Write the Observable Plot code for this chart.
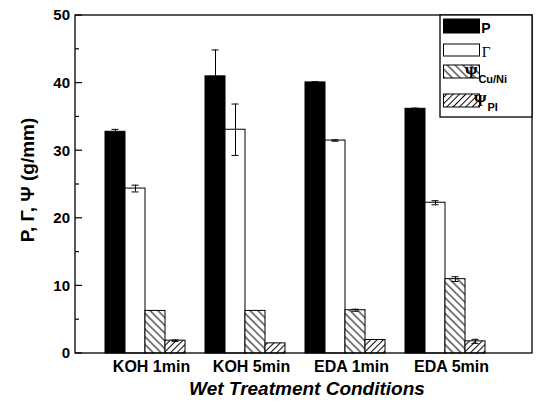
<!DOCTYPE html>
<html><head><meta charset="utf-8">
<script src="https://cdn.jsdelivr.net/npm/d3@7"></script>
<script src="https://cdn.jsdelivr.net/npm/@observablehq/plot@0.6"></script>
<style>body{margin:0;background:#fff}</style>
</head><body><div id="chart"></div>
<script>
// ---- data ----
const conditions = ["KOH 1min", "KOH 5min", "EDA 1min", "EDA 5min"];
const seriesKeys = ["P", "Γ", "ΨCu/Ni", "ΨPI"];
const legendMain = ["P", "Γ", "Ψ", "Ψ"];
const legendSub = ["", "", "Cu/Ni", "PI"];
const valuesP = [32.8, 41.0, 40.1, 36.2];
const errP = [0.35, 3.9, 0.1, 0.1];
const valuesGamma = [24.4, 33.1, 31.5, 22.3];
const errGamma = [0.5, 3.8, 0.1, 0.3];
const valuesPsiCu = [6.3, 6.3, 6.4, 11.0];
const errPsiCu = [0, 0, 0.15, 0.35];
const valuesPsiPI = [1.9, 1.5, 2.0, 1.8];
const errPsiPI = [0.1, 0, 0, 0.3];
const yMajorTicks = [0, 10, 20, 30, 40, 50];
const yMinorTicks = [5, 15, 25, 35, 45];
const yTitle = "P, Γ, Ψ (g/mm)";
const xTitle = "Wet Treatment Conditions";

const seriesValues = [valuesP, valuesGamma, valuesPsiCu, valuesPsiPI];
const seriesErrs = [errP, errGamma, errPsiCu, errPsiPI];
const rows = conditions.flatMap((c, i) => seriesKeys.map((s, j) => ({
  condition: c, series: s, value: seriesValues[j][i], err: seriesErrs[j][i]
})));
const errRows = rows.filter(d => d.err > 0);

const W = 538, H = 405, mL = 75, mR = 6, mT = 15, mB = 52;
const sans = "'Liberation Sans', Arial, sans-serif";
const serif = "'Liberation Serif', 'Times New Roman', serif";

const plot = Plot.plot({
  width: W, height: H,
  marginLeft: mL, marginRight: mR, marginTop: mT, marginBottom: mB,
  style: {fontFamily: sans, fontWeight: "bold", color: "black", background: "white", overflow: "visible"},
  fx: {domain: conditions, paddingInner: 0.2, paddingOuter: 0.385, align: 0.39, label: null},
  x: {domain: seriesKeys, paddingInner: 0, paddingOuter: 0, axis: null},
  y: {domain: [0, 50], label: null, axis: null},
  color: {domain: seriesKeys, range: ["black", "white", "url(#hatchCu)", "url(#hatchPI)"]},
  marks: [
    Plot.barY(rows, {fx: "condition", x: "series", y: "value", fill: "series", stroke: "black", strokeWidth: 1}),
    Plot.ruleX(errRows, {fx: "condition", x: "series", y1: d => d.value - d.err, y2: d => d.value + d.err, stroke: "black", strokeWidth: 1}),
    Plot.tickY(errRows, {fx: "condition", x: "series", y: d => d.value + d.err, insetLeft: 6.5, insetRight: 6.5, stroke: "black"}),
    Plot.tickY(errRows, {fx: "condition", x: "series", y: d => d.value - d.err, insetLeft: 6.5, insetRight: 6.5, stroke: "black"}),
    Plot.axisFx({anchor: "bottom", tickSize: 0, tickPadding: 7, fontSize: 16, dx: 6, label: null})
  ]
});

const svg = d3.select(plot);
const defs = svg.insert("defs", ":first-child");
function hatch(id, size, angle) {
  const p = defs.append("pattern").attr("id", id).attr("patternUnits", "userSpaceOnUse")
    .attr("width", size).attr("height", size).attr("patternTransform", `rotate(${angle})`);
  p.append("rect").attr("width", size).attr("height", size).attr("fill", "white");
  p.append("line").attr("x1", size / 2).attr("x2", size / 2).attr("y1", 0).attr("y2", size)
    .attr("stroke", "black").attr("stroke-width", 1);
}
hatch("hatchCu", 5.5, -45);
hatch("hatchPI", 4.5, 45);

// frame
svg.append("rect").attr("x", mL).attr("y", mT).attr("width", W - mL - mR).attr("height", H - mT - mB)
  .attr("fill", "none").attr("stroke", "black").attr("stroke-width", 1.3);

// y axis (inward ticks) from the plot's y scale
const y = plot.scale("y");
const ax = svg.append("g");
yMajorTicks.forEach(v => {
  const py = y.apply(v);
  ax.append("line").attr("x1", mL).attr("x2", mL + 7).attr("y1", py).attr("y2", py).attr("stroke", "black").attr("stroke-width", 1.2);
  ax.append("text").attr("x", mL - 5).attr("y", py).attr("dy", "0.36em").attr("text-anchor", "end")
    .attr("font-family", sans).attr("font-weight", "bold").attr("font-size", 15).attr("fill", "black").text(String(v));
});
yMinorTicks.forEach(v => {
  const py = y.apply(v);
  ax.append("line").attr("x1", mL).attr("x2", mL + 4).attr("y1", py).attr("y2", py).attr("stroke", "black").attr("stroke-width", 1.2);
});

// legend
const color = plot.scale("color");
const lgW = 92, lgH = 102;
const lg = svg.append("g").attr("transform", `translate(${W - mR - lgW},${mT})`);
lg.append("rect").attr("width", lgW).attr("height", lgH).attr("fill", "white").attr("stroke", "black").attr("stroke-width", 1.3);
const swY = [4, 29, 50, 79];
const swH = [14, 12, 13, 13];
const baseY = [18, 42, 63, 91];
seriesKeys.forEach((k, i) => {
  lg.append("rect").attr("x", 3.5).attr("y", swY[i]).attr("width", 36).attr("height", swH[i])
    .attr("fill", color.apply(k)).attr("stroke", "black").attr("stroke-width", 1);
  const t = lg.append("text").attr("x", 46).attr("y", baseY[i]).attr("fill", "black");
  const isP = i === 0, isG = i === 1;
  t.append("tspan").attr("font-family", isP ? sans : serif).attr("font-weight", isG ? "normal" : "bold")
    .attr("font-size", isP ? 14 : isG ? 15 : 16).text(legendMain[i]);
  if (legendSub[i]) {
    t.append("tspan").attr("font-family", sans).attr("font-weight", "bold").attr("font-size", 11)
      .attr("dy", 5).attr("dx", 1).text(legendSub[i]);
  }
});

// axis titles
svg.append("text").attr("transform", `translate(27,${(mT + H - mB) / 2 - 4}) rotate(-90)`)
  .attr("text-anchor", "middle").attr("dy", "0.35em").attr("font-family", sans).attr("font-weight", "bold").attr("font-size", 19)
  .attr("fill", "black").text(yTitle);
svg.append("text").attr("x", 307).attr("y", 395)
  .attr("text-anchor", "middle").attr("font-family", sans).attr("font-weight", "bold").attr("font-style", "italic")
  .attr("font-size", 19).attr("fill", "black").text(xTitle);

document.getElementById("chart").appendChild(plot);
</script>
</body></html>
